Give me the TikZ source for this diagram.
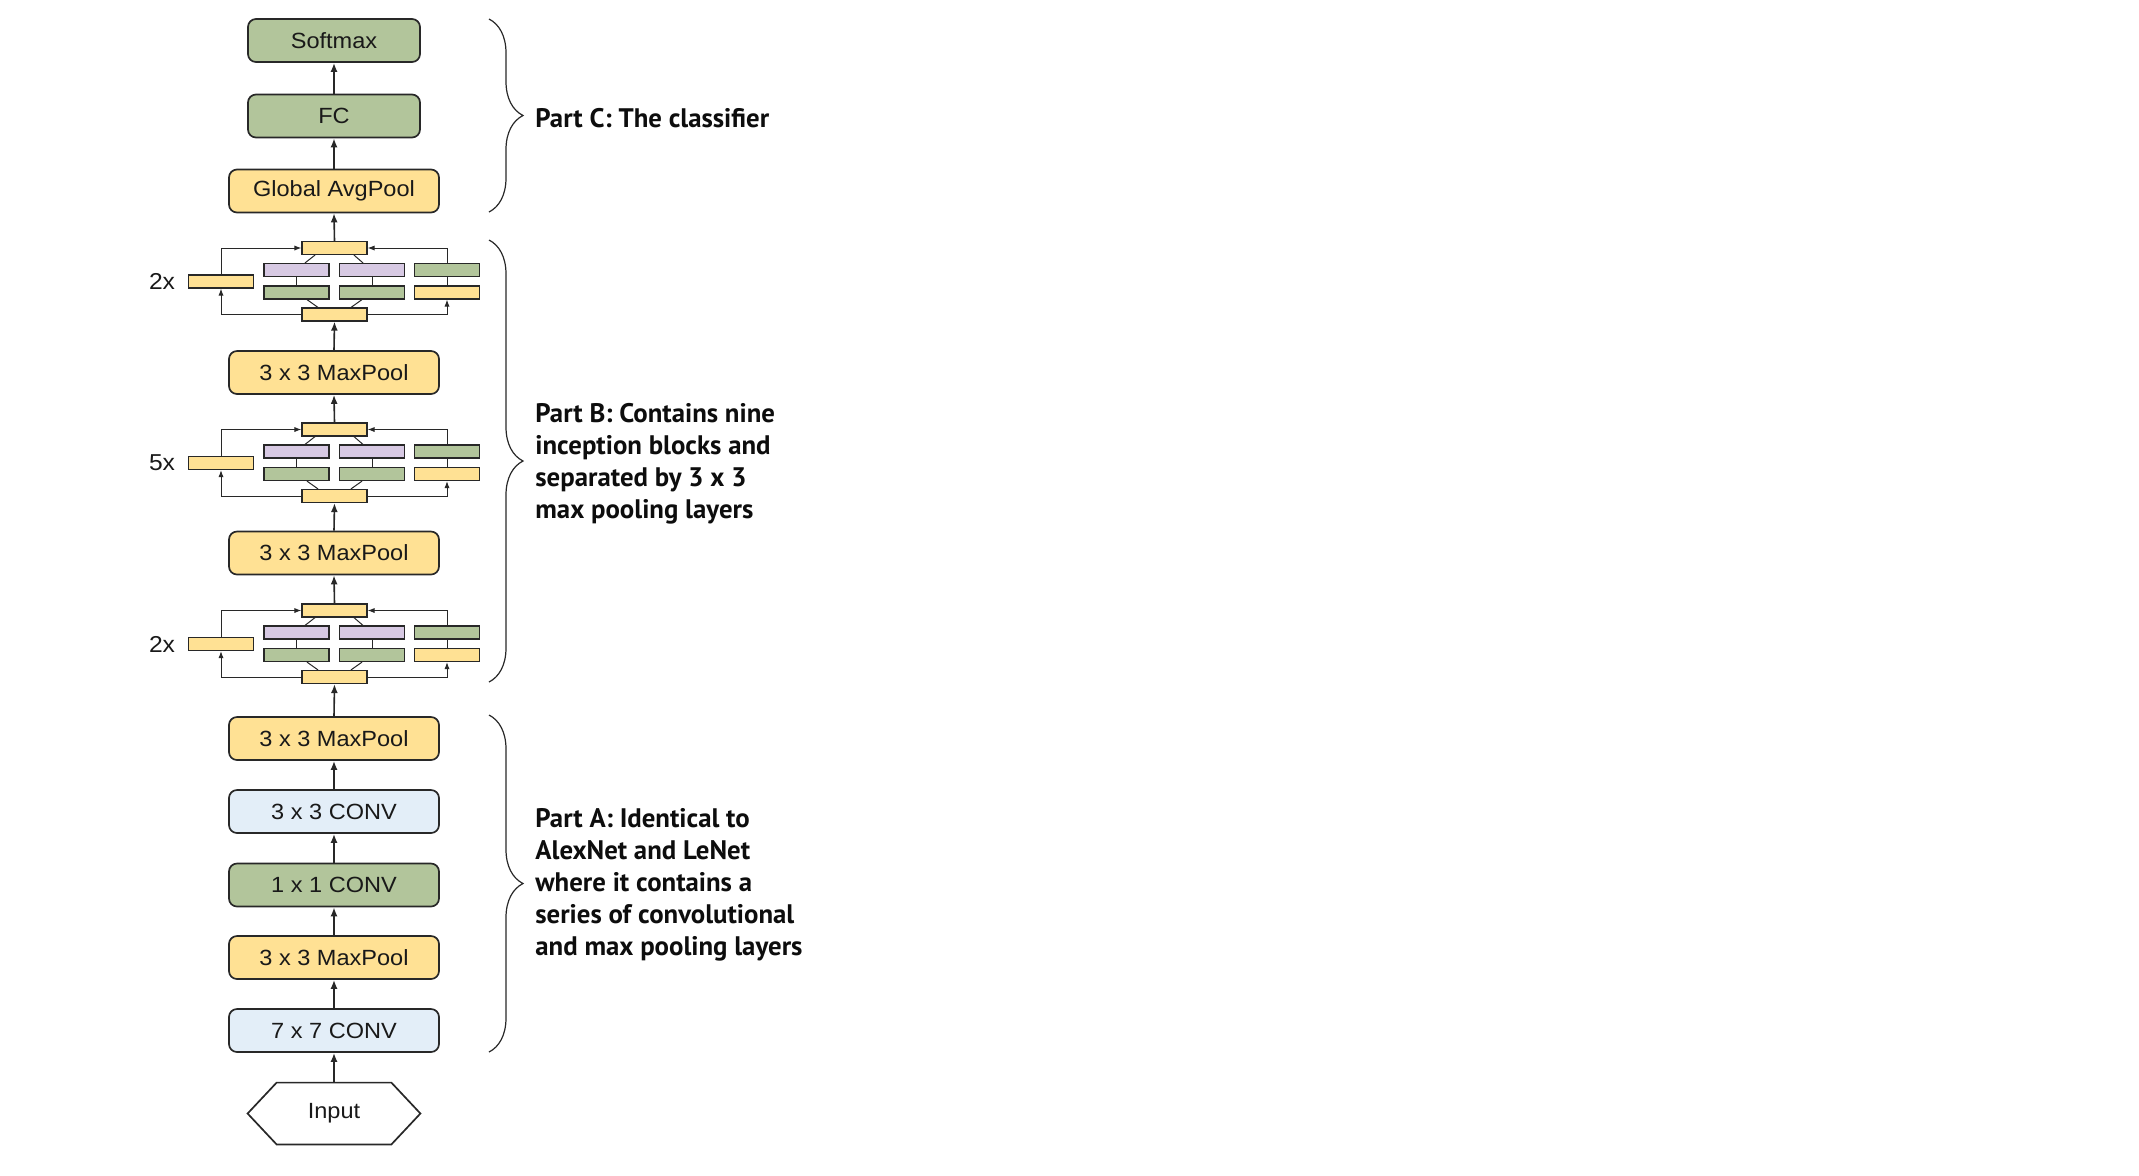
\documentclass[tikz,border=0pt]{standalone}
\usepackage{fontspec}
\setmainfont{Liberation Sans}[FakeStretch=1.07]
\newfontfamily\notefont{PT Sans}
\usetikzlibrary{arrows.meta,decorations.pathreplacing}

\newlength{\du}
\setlength{\du}{0.5pt}

\definecolor{poolcolor}{RGB}{255,225,148}
\definecolor{onecolor}{RGB}{178,197,155}
\definecolor{convcolor}{RGB}{227,238,248}
\definecolor{threecolor}{RGB}{215,201,227}
\definecolor{edgecolor}{RGB}{40,40,40}

\tikzset{
  layer/.style={draw=edgecolor, line width=0.85pt, rounded corners=4pt,
    minimum width=210\du, minimum height=43\du, inner sep=0pt,
    font=\fontsize{11}{13}\selectfont, text=black!90},
  cls/.style={layer, minimum width=172\du},
  cell/.style={draw=edgecolor, line width=0.6pt, minimum width=65\du,
    minimum height=13\du, inner sep=0pt},
  flow/.style={draw=edgecolor, line width=0.8pt, -{Latex[length=4.5pt, width=3.5pt]}},
  link/.style={draw=edgecolor, line width=0.5pt},
  loopline/.style={link, -{Latex[length=3.5pt, width=2.6pt]}},
  part/.style={decorate, decoration={brace, amplitude=17pt}, draw=edgecolor, line width=0.6pt},
  note/.style={anchor=west, align=left, inner sep=0pt, text=black!95,
    font=\notefont\bfseries\fontsize{13.4}{16}\selectfont}
}

\begin{document}
\begin{tikzpicture}[x=\du, y=-\du]
\useasboundingbox (0,0) rectangle (2139,1175);

% main column
\node[cls, fill=onecolor] (softmax) at (334,40.5) {Softmax};
\node[cls, fill=onecolor] (fc) at (334,116) {FC};
\node[layer, fill=poolcolor] (gap) at (334,191) {Global AvgPool};
\node[layer, fill=poolcolor] (poolb) at (334,372.5) {3 x 3 MaxPool};
\node[layer, fill=poolcolor] (poolc) at (334,553) {3 x 3 MaxPool};
\node[layer, fill=poolcolor] (poold) at (334,738.5) {3 x 3 MaxPool};
\node[layer, fill=convcolor] (convc) at (334,811.5) {3 x 3 CONV};
\node[layer, fill=onecolor] (convb) at (334,885) {1 x 1 CONV};
\node[layer, fill=poolcolor] (poola) at (334,957.5) {3 x 3 MaxPool};
\node[layer, fill=convcolor] (conva) at (334,1030.5) {7 x 7 CONV};
\node[minimum width=172\du, minimum height=61\du, inner sep=0pt,
  font=\fontsize{11}{13}\selectfont, text=black!90] (input) at (334,1113.5) {Input};
\draw[edgecolor, line width=0.85pt] (input.west) -- ([xshift=29\du]input.north west)
  -- ([xshift=-29\du]input.north east) -- (input.east)
  -- ([xshift=-29\du]input.south east) -- ([xshift=29\du]input.south west) -- cycle;

% inception blocks
\foreach \n/\yy/\rep in {1/248/2x, 2/429.5/5x, 3/610.5/2x}{
  \node[cell, fill=poolcolor] (top\n) at (334.5,\yy) {};
  \node[cell, fill=poolcolor] (bot\n) at (334.5,\yy+66.5) {};
  \node[cell, fill=poolcolor] (side\n) at (221,\yy+33.5) {};
  \node[cell, fill=threecolor] (ra\n) at (296.5,\yy+22) {};
  \node[cell, fill=threecolor] (rb\n) at (372,\yy+22) {};
  \node[cell, fill=onecolor] (rc\n) at (447,\yy+22) {};
  \node[cell, fill=onecolor] (sa\n) at (296.5,\yy+44.5) {};
  \node[cell, fill=onecolor] (sb\n) at (372,\yy+44.5) {};
  \node[cell, fill=poolcolor] (sc\n) at (447,\yy+44.5) {};
  \node[font=\fontsize{11.5}{13}\selectfont, text=black!90] (rep\n) at (162,\yy+33.5) {\rep};
  \draw[loopline] (bot\n.west) -| (side\n.south);
  \draw[loopline] (side\n.north) |- (top\n.west);
  \draw[loopline] (bot\n.east) -| (sc\n.south);
  \draw[loopline] (rc\n.north) |- (top\n.east);
  \draw[link] (ra\n) -- (sa\n) (rb\n) -- (sb\n) (rc\n) -- (sc\n);
  \draw[link] ([xshift=5.25pt]sa\n.south) -- ([xshift=-8.25pt]bot\n.north);
  \draw[link] ([xshift=-5pt]sb\n.south) -- ([xshift=8.25pt]bot\n.north);
  \draw[link] ([xshift=4.25pt]ra\n.north) -- ([xshift=-9.75pt]top\n.south);
  \draw[link] ([xshift=-4.5pt]rb\n.north) -- ([xshift=9.75pt]top\n.south);
}

\foreach \a/\b in {input/conva, conva/poola, poola/convb, convb/convc, convc/poold,
  poold/bot3, top3/poolc, poolc/bot2, top2/poolb, poolb/bot1, top1/gap, gap/fc, fc/softmax}
  \draw[flow] (\a.north) -- (\b.south);

% parts
\draw[part] (489,19) -- (489,212);
\draw[part] (489,240) -- (489,682);
\draw[part] (489,715) -- (489,1052);
\node[note] (partc) at (535,118) {Part C: The classifier};
\node[note] (partb) at (535,464) {Part B: Contains nine\\inception blocks and\\separated by 3 x 3\\max pooling layers};
\node[note] (parta) at (535,885) {Part A: Identical to\\AlexNet and LeNet\\where it contains a\\series of convolutional\\and max pooling layers};
\end{tikzpicture}
\end{document}
